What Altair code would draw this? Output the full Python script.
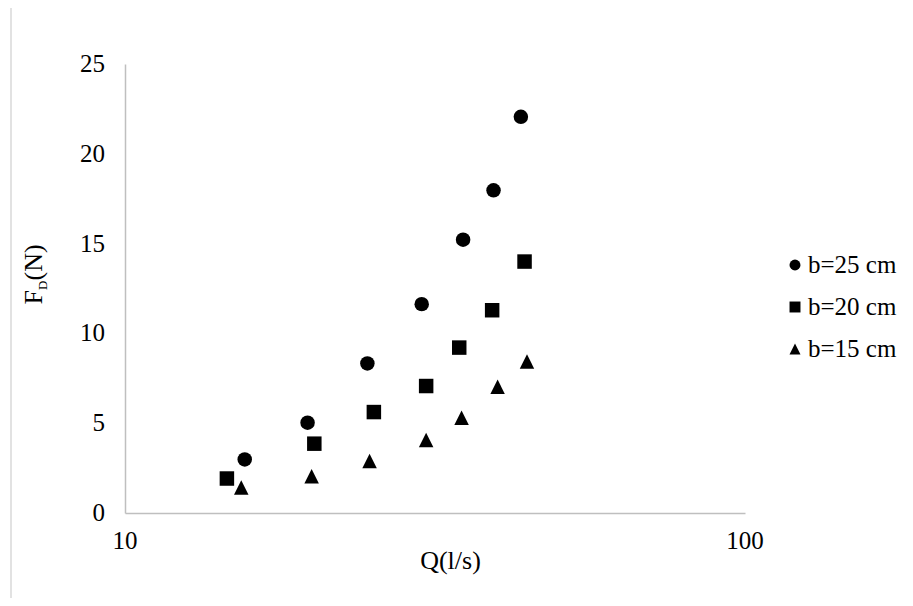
import altair as alt
import pandas as pd

# ---- data ----
series = ["b=25 cm", "b=20 cm", "b=15 cm"]
q_25 = [15.6, 19.7, 24.6, 30.1, 35.1, 39.3, 43.5]
f_25 = [2.98, 5.03, 8.33, 11.63, 15.22, 17.97, 22.06]
q_20 = [14.6, 20.2, 25.2, 30.6, 34.6, 39.1, 44.1]
f_20 = [1.92, 3.86, 5.62, 7.07, 9.21, 11.29, 14.0]
q_15 = [15.4, 20.0, 24.8, 30.6, 34.9, 39.9, 44.5]
f_15 = [1.42, 2.05, 2.89, 4.06, 5.31, 7.03, 8.43]

x_ticks = [10, 100]
y_ticks = [0, 5, 10, 15, 20, 25]
shapes = ["circle", "square", "M0,-1L1,1L-1,1Z"]

rows = []
for name, qs, fs in zip(series, [q_25, q_20, q_15], [f_25, f_20, f_15]):
    for q, f in zip(qs, fs):
        rows.append({"series": name, "Q": q, "F": f})
df = pd.DataFrame(rows)

FONT = "Liberation Serif"
LSIZE = 25
AXIS_GRAY = "#bfbfbf"
xscale = alt.Scale(type="log", domain=[10, 100])
yscale = alt.Scale(domain=[0, 25], nice=False, zero=True)
xaxis = alt.Axis(values=x_ticks, grid=False, ticks=False, tickSize=0, labels=False,
                 domainColor=AXIS_GRAY, domainWidth=1.5,
                 title="Q(l/s)", titleFont=FONT, titleFontSize=26, titleFontWeight="normal",
                 titleColor="black", titleX=325, titleY=55, titleBaseline="alphabetic",
                 titleAlign="center")
yaxis = alt.Axis(values=y_ticks, grid=False, ticks=False, tickSize=0, labels=False,
                 domainColor=AXIS_GRAY, domainWidth=1.5, title=None)

points = alt.Chart(df).mark_point(filled=True, color="black", opacity=1, size=210, strokeWidth=0).encode(
    x=alt.X("Q:Q", scale=xscale, axis=xaxis),
    y=alt.Y("F:Q", scale=yscale, axis=yaxis),
    shape=alt.Shape("series:N", scale=alt.Scale(domain=series, range=shapes), legend=None),
)

# tick labels drawn as text through the same scales
ylabels = alt.Chart(pd.DataFrame({"F": y_ticks})).mark_text(
    align="right", baseline="middle", font=FONT, fontSize=LSIZE, color="black"
).encode(y=alt.Y("F:Q", scale=yscale, axis=yaxis), x=alt.value(-20),
         text=alt.Text("F:Q", format="d"))

xlabels = alt.Chart(pd.DataFrame({"Q": x_ticks})).mark_text(
    align="center", baseline="alphabetic", font=FONT, fontSize=LSIZE, color="black"
).encode(x=alt.X("Q:Q", scale=xscale, axis=xaxis), y=alt.value(485),
         text=alt.Text("Q:Q", format="d"))

# legend
legend_layers = []
for i, (name, shp) in enumerate(zip(series, shapes)):
    yy = 201 + 42 * i
    sym = alt.Chart(pd.DataFrame({"s": [name]})).mark_point(
        filled=True, color="black", opacity=1, size=120, strokeWidth=0, shape=shp
    ).encode(x=alt.value(670), y=alt.value(yy))
    lab = alt.Chart(pd.DataFrame({"s": [name]})).mark_text(
        align="left", baseline="middle", font=FONT, fontSize=LSIZE, color="black"
    ).encode(text="s:N", x=alt.value(683), y=alt.value(yy))
    legend_layers += [sym, lab]

border = alt.Chart(pd.DataFrame({"k": [0]})).mark_rect(
    fillOpacity=0, stroke="#d9d9d9", strokeWidth=1.5
).encode(
    x=alt.value(-114), x2=alt.value(800), y=alt.value(-60), y2=alt.value(560)
)

def title_part(txt, size, xv, yv):
    return alt.Chart(pd.DataFrame({"t": [txt]})).mark_text(
        angle=270, align="left", baseline="alphabetic", font=FONT, fontSize=size, color="black"
    ).encode(text="t:N", x=alt.value(xv), y=alt.value(yv))

ytitle = [title_part("F", 26, -83, 240.5), title_part("D", 13, -78, 226), title_part("(N)", 26, -83, 216.5)]

chart = alt.layer(border, points, ylabels, xlabels, *legend_layers, *ytitle).properties(
    width=620, height=449,
    autosize=alt.AutoSizeParams(type="none"),
    padding={"left": 117, "top": 56, "right": 160, "bottom": 85},
    background="white",
).configure_view(stroke=None)

chart.save("out.html", embed_options={"renderer": "svg", "actions": False})
